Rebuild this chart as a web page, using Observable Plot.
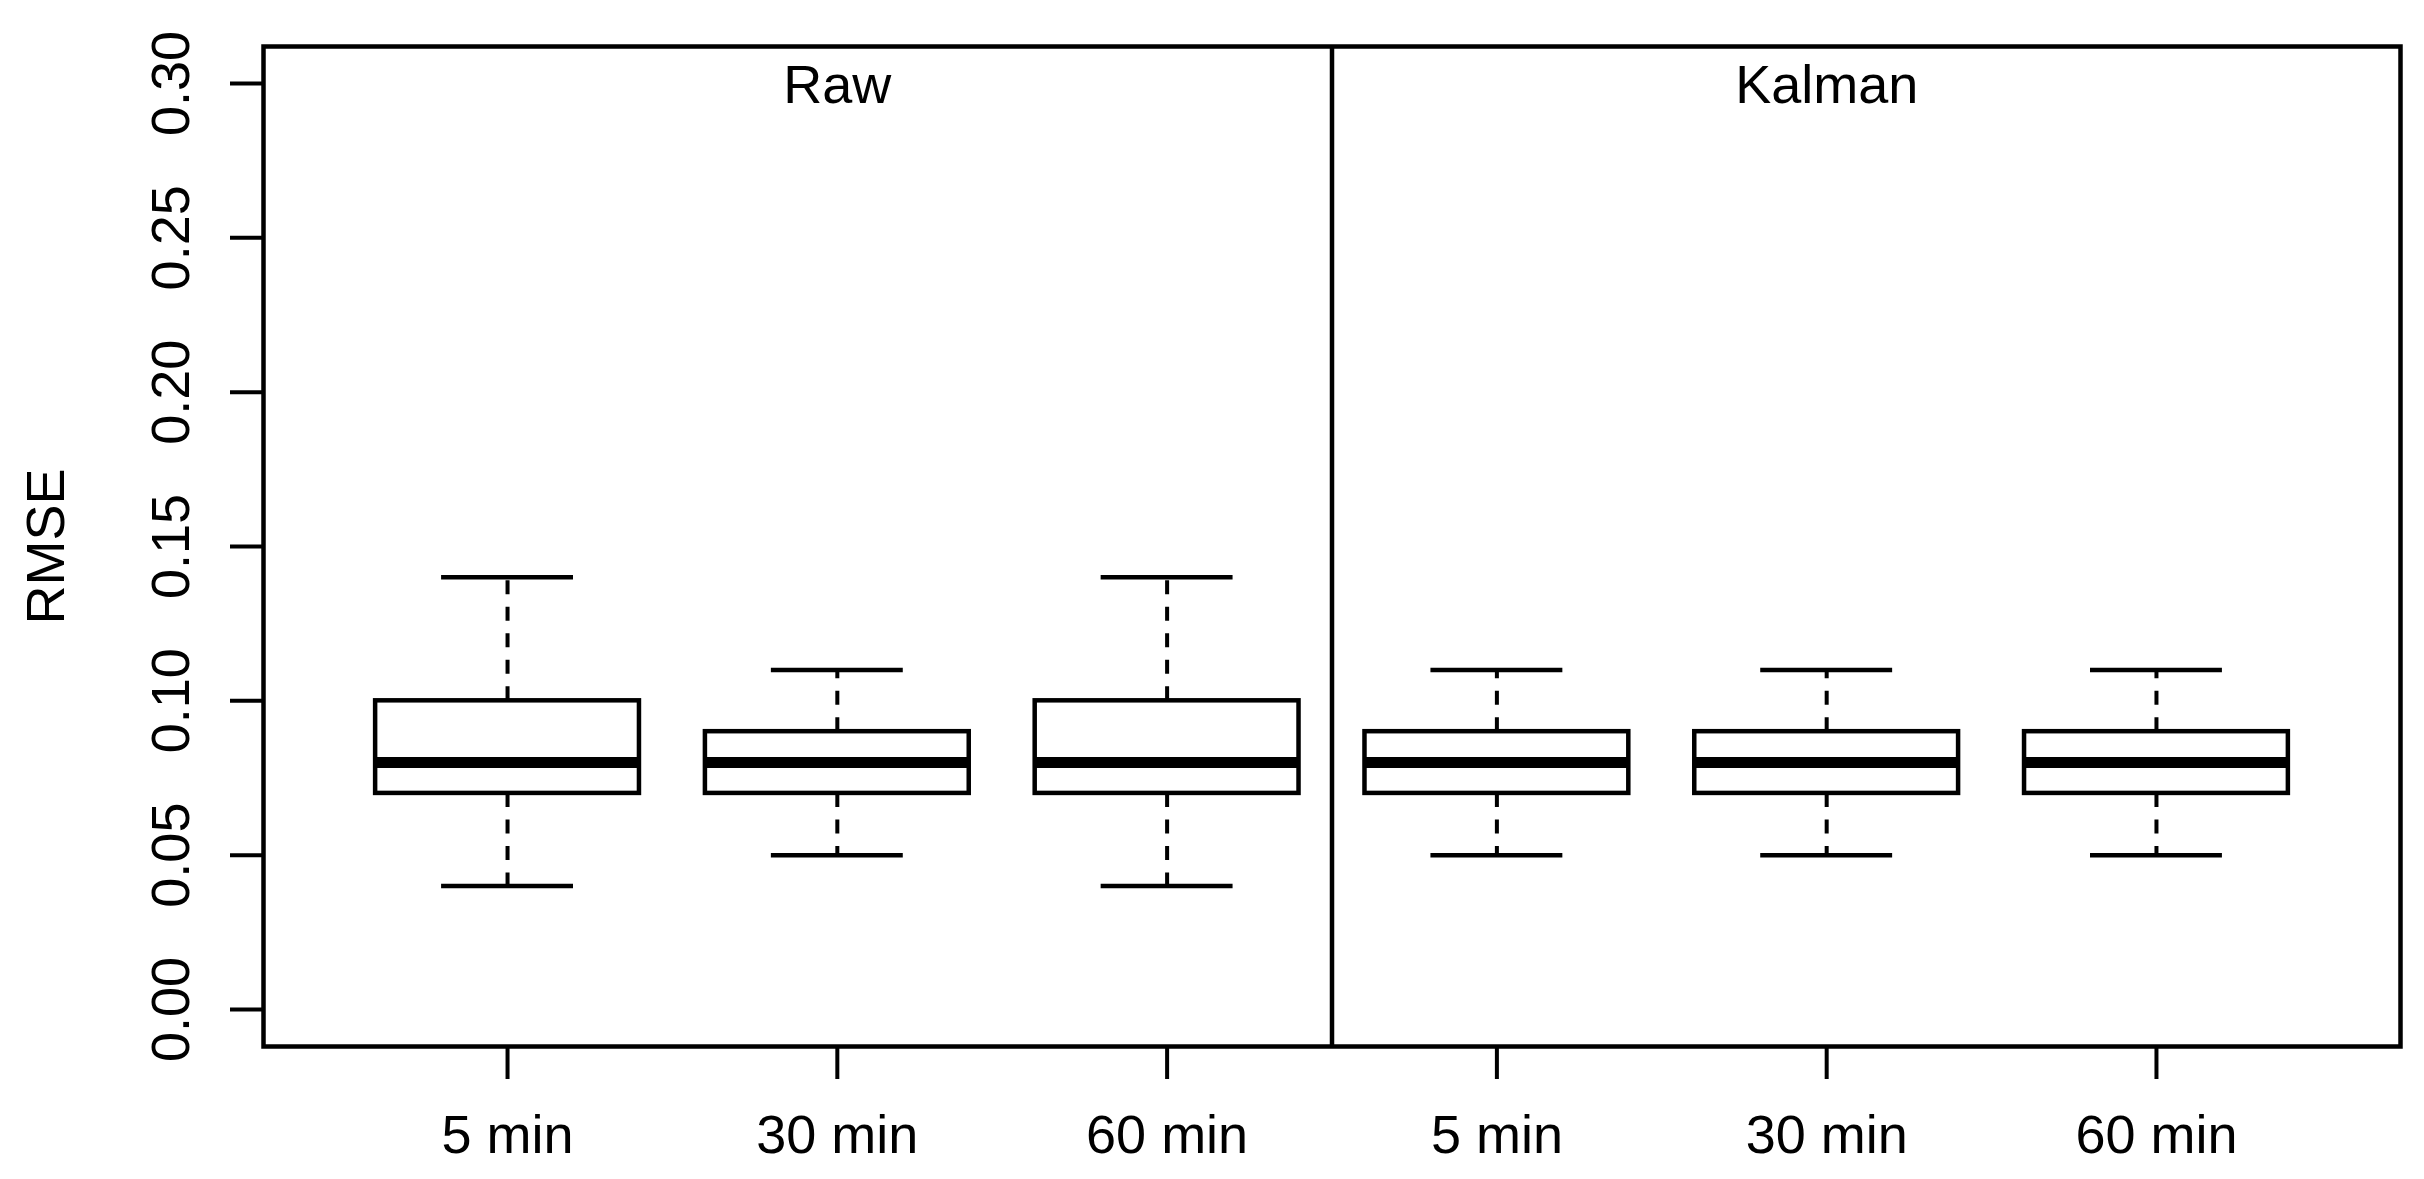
<!DOCTYPE html>
<html>
<head>
<meta charset="utf-8">
<script src="https://cdn.jsdelivr.net/npm/d3@7"></script>
<script src="https://cdn.jsdelivr.net/npm/@observablehq/plot@0.6"></script>
<style>
  html, body { margin: 0; padding: 0; background: #fff; }
  #chart svg { display: block; }
</style>
</head>
<body>
<div id="chart"></div>
<script>
// Data
const groups = ["Raw", "Raw", "Raw", "Kalman", "Kalman", "Kalman"];
const intervals = ["5 min", "30 min", "60 min", "5 min", "30 min", "60 min"];
const whiskerLow = [0.04, 0.05, 0.04, 0.05, 0.05, 0.05];
const q1 = [0.07, 0.07, 0.07, 0.07, 0.07, 0.07];
const medians = [0.08, 0.08, 0.08, 0.08, 0.08, 0.08];
const q3 = [0.10, 0.09, 0.10, 0.09, 0.09, 0.09];
const whiskerHigh = [0.14, 0.11, 0.14, 0.11, 0.11, 0.11];
const panelNames = ["Raw", "Kalman"];
const yTicks = [0, 0.05, 0.10, 0.15, 0.20, 0.25, 0.30];
const yLabel = "RMSE";

const boxes = intervals.map((lab, i) => ({
  pos: i + 1, group: groups[i], label: lab,
  lo: whiskerLow[i], q1: q1[i], med: medians[i], q3: q3[i], hi: whiskerHigh[i]
}));
const panels = panelNames.map((name, j) => ({name, pos: 3 * j + 2}));
const dividers = [3.5];

const FONT = "'Liberation Sans', Arial, Helvetica, sans-serif";
const FS = 54;
const halfBox = 0.4, halfCap = 0.2;
const LW = 4.5;

const chart = Plot.plot({
  width: 2424,
  height: 1179,
  marginLeft: 263,
  marginRight: 24,
  marginTop: 46,
  marginBottom: 133,
  style: {fontFamily: FONT, background: "#fff", color: "#000"},
  x: {type: "linear", domain: [0.26, 6.74]},
  y: {type: "linear", domain: [-0.012, 0.312]},
  marks: [
    // whiskers (dashed), drawn from box outward
    Plot.ruleX(boxes, {x: "pos", y1: "q3", y2: "hi", stroke: "#000", strokeWidth: 4, strokeDasharray: "14,12.5"}),
    Plot.ruleX(boxes, {x: "pos", y1: "q1", y2: "lo", stroke: "#000", strokeWidth: 4, strokeDasharray: "14,12.5"}),
    // whisker caps
    Plot.ruleY(boxes, {y: "hi", x1: d => d.pos - halfCap, x2: d => d.pos + halfCap, stroke: "#000", strokeWidth: LW}),
    Plot.ruleY(boxes, {y: "lo", x1: d => d.pos - halfCap, x2: d => d.pos + halfCap, stroke: "#000", strokeWidth: LW}),
    // boxes
    Plot.rect(boxes, {x1: d => d.pos - halfBox, x2: d => d.pos + halfBox, y1: "q1", y2: "q3", fill: "#fff", stroke: "#000", strokeWidth: LW}),
    // medians
    Plot.ruleY(boxes, {y: "med", x1: d => d.pos - halfBox, x2: d => d.pos + halfBox, stroke: "#000", strokeWidth: 11}),
    // panel divider
    Plot.ruleX(dividers, {x: d => d, stroke: "#000", strokeWidth: LW}),
    // frame
    Plot.frame({stroke: "#000", strokeWidth: LW}),
    // panel titles
    Plot.text(panels, {x: "pos", text: "name", frameAnchor: "top", dy: 18, lineAnchor: "top", fontSize: FS, fill: "#000"}),
    // x axis
    Plot.axisX({
      ticks: boxes.map(d => d.pos),
      tickFormat: d => intervals[Math.round(d) - 1],
      tickSize: 33, tickPadding: 35, strokeWidth: 4,
      fontSize: FS, label: null
    }),
    // y axis ticks (labels drawn rotated below)
    Plot.axisY({ticks: yTicks, tickSize: 33, strokeWidth: 4, tickFormat: () => "", label: null}),
    Plot.text(yTicks, {y: d => d, text: d => d.toFixed(2), frameAnchor: "left", dx: -92, rotate: -90, textAnchor: "middle", lineAnchor: "middle", fontSize: FS, fill: "#000"}),
    Plot.text([yLabel], {text: d => d, frameAnchor: "left", dx: -217, rotate: -90, textAnchor: "middle", lineAnchor: "middle", fontSize: FS, fill: "#000"})
  ]
});
document.getElementById("chart").appendChild(chart);
</script>
</body>
</html>
